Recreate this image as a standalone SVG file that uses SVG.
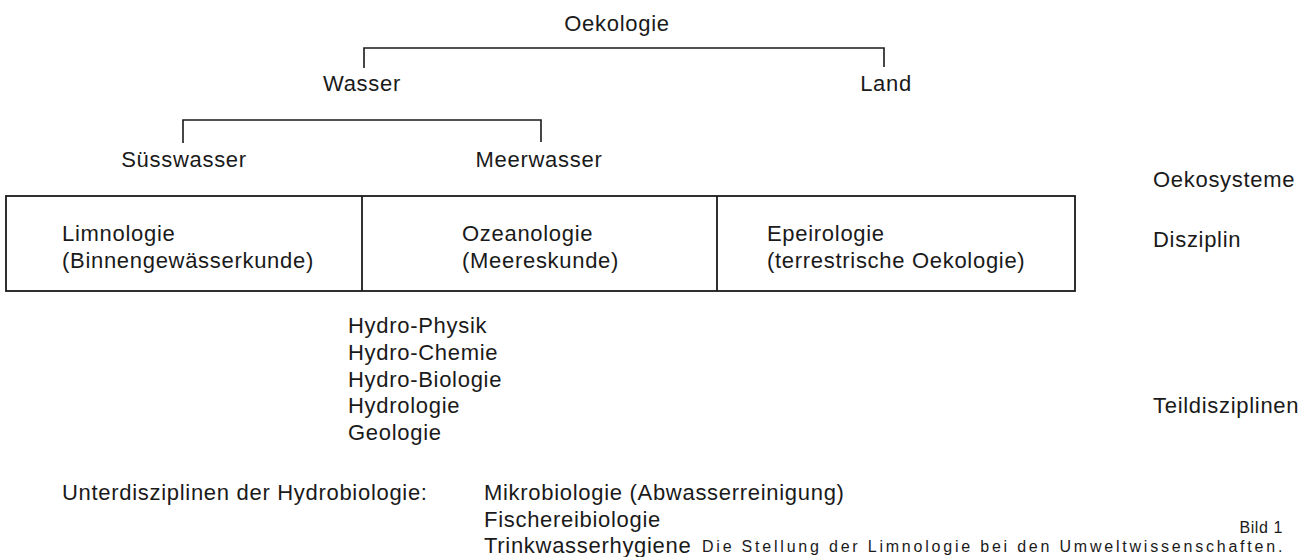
<svg xmlns="http://www.w3.org/2000/svg" width="1305" height="557" viewBox="0 0 1305 557">
<style>
text{font-family:"Liberation Sans",Arial,sans-serif;font-size:22px;fill:#1a1a1a;letter-spacing:0.7px}
.c{text-anchor:middle}
.s{font-size:16px;letter-spacing:0.6px}
.ln{fill:none;stroke:#1a1a1a;stroke-width:1.6}
.bx{fill:none;stroke:#1a1a1a;stroke-width:1.8}
</style>
<rect width="1305" height="557" fill="#fff"/>
<g id="connectors">
<path class="ln" d="M364,68 V48 H884 V67"/>
<path class="ln" d="M183,143 V120 H541 V142"/>
</g>
<g id="n-oekologie"><text x="617" y="31" class="c">Oekologie</text></g>
<g id="n-wasser"><text x="362" y="91" class="c">Wasser</text></g>
<g id="n-land"><text x="886" y="91" class="c">Land</text></g>
<g id="n-suesswasser"><text x="184" y="167" class="c">Süsswasser</text></g>
<g id="n-meerwasser"><text x="539" y="167" class="c">Meerwasser</text></g>
<g id="n-disziplinen">
<rect class="bx" x="6" y="196" width="1069" height="95"/>
<line class="bx" x1="362" y1="196" x2="362" y2="291"/>
<line class="bx" x1="717" y1="196" x2="717" y2="291"/>
</g>
<g id="n-limnologie"><text x="62" y="241">Limnologie</text><text x="62" y="268">(Binnengewässerkunde)</text></g>
<g id="n-ozeanologie"><text x="462" y="241">Ozeanologie</text><text x="462" y="268">(Meereskunde)</text></g>
<g id="n-epeirologie"><text x="767" y="241">Epeirologie</text><text x="767" y="268">(terrestrische Oekologie)</text></g>
<g id="labels">
<text x="1153" y="187">Oekosysteme</text>
<text x="1153" y="247">Disziplin</text>
<text x="1153" y="413">Teildisziplinen</text>
</g>
<g id="n-teildisziplinen">
<text x="348" y="333">Hydro-Physik</text>
<text x="348" y="360">Hydro-Chemie</text>
<text x="348" y="387">Hydro-Biologie</text>
<text x="348" y="413">Hydrologie</text>
<text x="348" y="440">Geologie</text>
</g>
<g id="n-unterdisziplinen">
<text x="62" y="500">Unterdisziplinen der Hydrobiologie:</text>
<text x="484" y="500">Mikrobiologie (Abwasserreinigung)</text>
<text x="484" y="527">Fischereibiologie</text>
<text x="484" y="553">Trinkwasserhygiene</text>
</g>
<g id="caption">
<text x="1283" y="533" class="s" text-anchor="end">Bild 1</text>
<text x="702" y="552" class="s" textLength="581">Die Stellung der Limnologie bei den Umweltwissenschaften.</text>
</g>
</svg>
